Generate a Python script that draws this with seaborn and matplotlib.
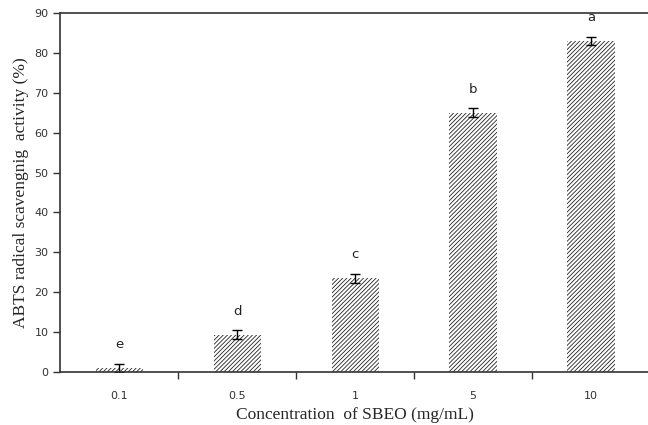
import matplotlib
matplotlib.use("Agg")
import matplotlib.pyplot as plt
import seaborn as sns
import pandas as pd

concentrations = ["0.1", "0.5", "1", "5", "10"]
activity = [1.0, 9.3, 23.5, 65.0, 83.0]
errors = [1.0, 1.1, 1.1, 1.1, 1.0]
letters = ["e", "d", "c", "b", "a"]

df = pd.DataFrame({"conc": concentrations, "act": activity})

sns.set_style("ticks")
plt.rcParams["hatch.linewidth"] = 0.6
plt.rcParams["hatch.color"] = "#222222"

fig = plt.figure(figsize=(6.48, 4.25), dpi=100)
ax = fig.add_axes([0.093, 0.125, 0.91, 0.844])

sns.barplot(data=df, x="conc", y="act", order=concentrations, color="white",
            width=0.4, errorbar=None, ax=ax, linewidth=0, edgecolor="#222222")
for p in ax.patches:
    p.set_hatch("////////")
    p.set_edgecolor("#222222")
    p.set_linewidth(0)

xs = list(range(len(concentrations)))
ax.errorbar(xs, activity, yerr=errors, fmt="none", ecolor="black",
            elinewidth=1.0, capsize=3.5, capthick=1.0)
for x, v, e, l in zip(xs, activity, errors, letters):
    ax.text(x, v + e + 3.2, l, ha="center", va="bottom", fontsize=9.5,
            family="DejaVu Sans", color="#222222")

ax.set_xlim(-0.5, 4.5)
ax.set_ylim(0, 90)
ax.set_yticks(range(0, 91, 10))
ax.set_xticks([0.5, 1.5, 2.5, 3.5], minor=False)
ax.set_xticklabels([])
ax.set_xticks(xs, minor=True)
ax.set_xticklabels(concentrations, minor=True)
ax.tick_params(axis="x", which="major", direction="out", length=5, width=1, color="#333333")
ax.tick_params(axis="x", which="minor", length=0, pad=14, labelsize=8, labelcolor="#333333")
ax.tick_params(axis="y", direction="out", length=5, width=1, labelsize=8, labelcolor="#333333", color="#333333")

for s in ["left", "bottom", "top"]:
    ax.spines[s].set_visible(True)
    ax.spines[s].set_color("#333333")
    ax.spines[s].set_linewidth(1.2)
ax.spines["right"].set_visible(False)

ax.set_xlabel("Concentration  of SBEO (mg/mL)", family="Liberation Serif", fontsize=12.5, labelpad=4)
ax.set_ylabel("ABTS radical scavengnig  activity (%)", family="Liberation Serif", fontsize=12.5, labelpad=4)

fig.savefig("out.png", dpi=100)
